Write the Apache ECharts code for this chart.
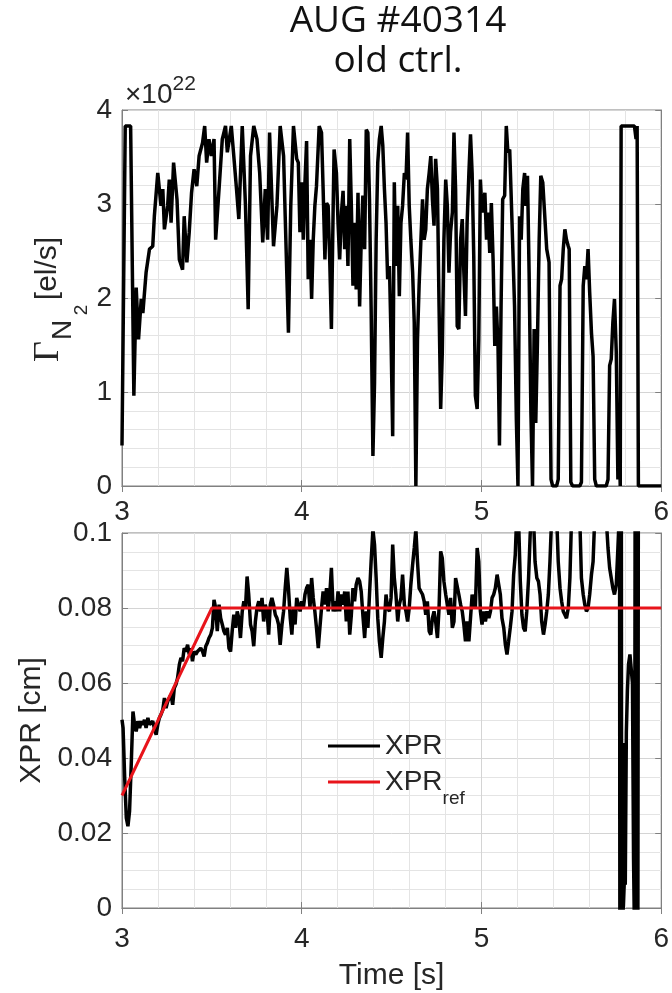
<!DOCTYPE html>
<html>
<head>
<meta charset="utf-8">
<script src="https://cdn.jsdelivr.net/npm/echarts@6/dist/echarts.min.js"></script>
<style>
html,body{margin:0;padding:0;background:#fff;}
#chart{width:672px;height:993px;}
</style>
</head>
<body>
<div id="chart"></div>
<script>
// ---------- data ----------
const titleLines = ['AUG #40314', 'old ctrl.'];
const timeTicks = [3, 4, 5, 6];            // s
const fluxTicks = [0, 1, 2, 3, 4];         // x 1e22 el/s
const xprTicks = [0, 0.02, 0.04, 0.06, 0.08, 0.1]; // cm

// N2 seeding rate, units of 1e22 el/s : [time s, value]
const n2Flux = [
[3.000,0.43],[3.018,3.83],[3.048,3.83],[3.066,0.96],[3.079,2.11],[3.092,1.56],[3.107,1.99],[3.116,1.84],[3.134,2.27],[3.153,2.52],
[3.171,2.55],[3.180,2.87],[3.199,3.33],[3.217,2.98],[3.227,3.16],[3.236,2.73],[3.254,2.98],[3.263,3.26],[3.273,2.80],[3.287,3.44],
[3.306,3.05],[3.319,2.41],[3.337,2.30],[3.346,2.87],[3.361,2.38],[3.374,2.70],[3.387,3.12],[3.401,3.37],[3.416,3.19],[3.429,3.51],
[3.448,3.65],[3.460,3.83],[3.471,3.44],[3.484,3.69],[3.497,3.51],[3.512,3.69],[3.521,2.62],[3.540,3.16],[3.558,3.69],[3.576,3.83],
[3.586,3.55],[3.608,3.83],[3.622,3.51],[3.637,3.16],[3.650,2.84],[3.669,3.83],[3.687,2.98],[3.702,1.88],[3.715,3.51],[3.733,3.83],
[3.751,3.69],[3.766,3.33],[3.783,2.59],[3.797,3.16],[3.810,2.62],[3.821,3.76],[3.843,2.55],[3.862,2.98],[3.880,3.83],[3.899,3.51],
[3.908,2.87],[3.926,1.63],[3.939,2.98],[3.954,3.83],[3.972,3.48],[3.981,3.44],[3.990,2.70],[4.000,3.23],[4.009,2.62],[4.018,3.23],
[4.027,3.67],[4.036,2.20],[4.046,2.62],[4.055,1.99],[4.064,2.62],[4.073,2.98],[4.082,3.19],[4.097,3.83],[4.110,3.76],[4.119,3.16],
[4.129,2.41],[4.138,3.01],[4.147,2.98],[4.156,2.38],[4.165,1.67],[4.175,2.98],[4.180,3.58],[4.193,3.33],[4.202,2.80],[4.211,2.41],
[4.221,2.91],[4.230,3.14],[4.239,2.52],[4.248,2.98],[4.257,2.34],[4.267,3.69],[4.276,2.98],[4.285,2.13],[4.294,2.80],[4.303,2.09],
[4.313,3.12],[4.322,1.91],[4.331,2.62],[4.340,3.09],[4.350,2.52],[4.359,3.79],[4.368,3.76],[4.377,3.05],[4.386,1.91],[4.396,0.32],
[4.405,1.10],[4.414,2.62],[4.423,3.44],[4.432,3.69],[4.442,3.83],[4.451,3.62],[4.460,3.16],[4.469,2.80],[4.478,2.20],[4.488,2.34],
[4.497,1.56],[4.506,0.53],[4.515,3.23],[4.524,2.34],[4.534,2.98],[4.543,2.02],[4.552,2.80],[4.561,2.98],[4.571,3.33],[4.580,3.26],
[4.589,3.76],[4.598,2.98],[4.607,2.62],[4.617,2.27],[4.626,1.74],[4.635,0.00],[4.644,1.56],[4.653,2.13],[4.663,2.13],[4.672,3.05],
[4.681,2.62],[4.690,2.73],[4.699,3.16],[4.709,3.33],[4.718,3.51],[4.727,3.05],[4.736,2.77],[4.745,3.48],[4.755,3.16],[4.764,1.91],
[4.773,0.82],[4.782,1.42],[4.791,2.62],[4.801,3.26],[4.810,2.98],[4.819,2.27],[4.828,2.70],[4.838,2.91],[4.847,3.76],[4.856,3.16],
[4.865,1.70],[4.874,1.67],[4.884,2.62],[4.893,2.84],[4.902,2.27],[4.911,1.81],[4.920,2.80],[4.930,3.33],[4.939,3.74],[4.948,3.33],
[4.957,2.45],[4.966,0.96],[4.976,0.82],[4.985,1.56],[4.994,3.26],[5.003,2.91],[5.008,2.91],[5.019,3.12],[5.028,2.62],[5.037,2.91],
[5.046,2.48],[5.055,3.01],[5.065,2.38],[5.074,1.49],[5.083,1.91],[5.092,1.49],[5.100,0.43],[5.109,1.91],[5.118,3.05],[5.129,3.09],
[5.138,3.83],[5.147,3.55],[5.157,3.58],[5.170,2.80],[5.184,1.91],[5.194,0.71],[5.203,0.00],[5.212,2.87],[5.221,2.62],[5.230,3.16],
[5.240,3.33],[5.247,2.98],[5.256,3.30],[5.265,2.27],[5.275,0.78],[5.284,0.00],[5.293,1.67],[5.302,0.67],[5.311,1.49],[5.321,2.62],
[5.330,3.30],[5.341,3.23],[5.350,2.94],[5.363,2.52],[5.376,2.38],[5.387,0.07],[5.396,0.00],[5.418,0.00],[5.427,0.07],[5.437,2.13],
[5.446,2.20],[5.455,2.52],[5.464,2.73],[5.473,2.62],[5.483,2.55],[5.488,2.52],[5.497,0.04],[5.507,0.00],[5.547,0.00],[5.556,0.04],
[5.566,2.13],[5.575,2.34],[5.584,2.20],[5.593,2.52],[5.602,2.06],[5.612,1.63],[5.621,1.38],[5.630,0.07],[5.639,0.00],[5.694,0.00],
[5.704,0.07],[5.713,1.28],[5.722,1.35],[5.731,1.74],[5.740,1.99],[5.750,1.42],[5.759,0.07],[5.764,0.67],[5.772,0.00],[5.777,3.83],
[5.851,3.83],[5.860,3.69],[5.866,3.83],[5.873,0.00],[6.000,0.00]
];

// XPR position, cm : [time s, value]  (values beyond 0..0.1 leave the frame)
const xpr = [
[3.000,0.0502],[3.006,0.0480],[3.015,0.0347],[3.024,0.0240],[3.033,0.0218],[3.042,0.0258],[3.052,0.0391],[3.061,0.0524],[3.070,0.0489],[3.079,0.0471],
[3.088,0.0498],[3.098,0.0480],[3.107,0.0498],[3.116,0.0489],[3.125,0.0502],[3.134,0.0480],[3.144,0.0507],[3.153,0.0489],[3.162,0.0484],[3.171,0.0498],
[3.180,0.0480],[3.190,0.0462],[3.199,0.0489],[3.208,0.0507],[3.217,0.0516],[3.227,0.0529],[3.236,0.0560],[3.245,0.0533],[3.254,0.0551],[3.263,0.0560],
[3.273,0.0569],[3.282,0.0542],[3.291,0.0587],[3.300,0.0596],[3.309,0.0613],[3.319,0.0649],[3.328,0.0667],[3.337,0.0658],[3.346,0.0693],[3.355,0.0684],
[3.365,0.0702],[3.374,0.0676],[3.383,0.0693],[3.392,0.0658],[3.401,0.0684],[3.411,0.0676],[3.420,0.0684],[3.429,0.0680],[3.438,0.0693],[3.448,0.0684],
[3.457,0.0671],[3.466,0.0698],[3.475,0.0707],[3.484,0.0720],[3.494,0.0729],[3.503,0.0747],[3.512,0.0822],[3.521,0.0800],[3.530,0.0738],[3.540,0.0809],
[3.549,0.0773],[3.558,0.0756],[3.567,0.0738],[3.576,0.0729],[3.586,0.0747],[3.595,0.0693],[3.604,0.0684],[3.613,0.0738],[3.622,0.0782],[3.632,0.0747],
[3.641,0.0791],[3.650,0.0773],[3.659,0.0720],[3.669,0.0791],[3.678,0.0818],[3.687,0.0800],[3.696,0.0884],[3.705,0.0836],[3.715,0.0756],[3.724,0.0738],
[3.733,0.0698],[3.742,0.0764],[3.751,0.0800],[3.761,0.0818],[3.770,0.0791],[3.779,0.0827],[3.788,0.0764],[3.797,0.0809],[3.807,0.0791],[3.816,0.0729],
[3.825,0.0809],[3.834,0.0827],[3.843,0.0809],[3.853,0.0782],[3.862,0.0773],[3.871,0.0756],[3.880,0.0702],[3.890,0.0756],[3.899,0.0791],[3.908,0.0853],
[3.917,0.0907],[3.926,0.0853],[3.936,0.0773],[3.945,0.0729],[3.954,0.0800],[3.963,0.0756],[3.972,0.0827],[3.981,0.0809],[3.991,0.0791],[4.000,0.0818],
[4.009,0.0800],[4.018,0.0836],[4.027,0.0853],[4.036,0.0862],[4.046,0.0800],[4.055,0.0880],[4.064,0.0827],[4.073,0.0791],[4.082,0.0747],[4.092,0.0693],
[4.101,0.0747],[4.110,0.0800],[4.119,0.0844],[4.129,0.0809],[4.138,0.0853],[4.147,0.0791],[4.156,0.0836],[4.165,0.0907],[4.175,0.0791],[4.184,0.0818],
[4.193,0.0791],[4.202,0.0844],[4.211,0.0791],[4.221,0.0836],[4.230,0.0809],[4.239,0.0844],[4.248,0.0764],[4.257,0.0844],[4.267,0.0729],[4.276,0.0782],
[4.285,0.0853],[4.294,0.0818],[4.303,0.0862],[4.313,0.0880],[4.322,0.0871],[4.331,0.0844],[4.340,0.0782],[4.350,0.0720],[4.359,0.0791],[4.368,0.0747],
[4.377,0.0836],[4.386,0.0924],[4.396,0.1010],[4.405,0.0969],[4.414,0.0880],[4.423,0.0773],[4.432,0.0711],[4.442,0.0667],[4.451,0.0720],[4.460,0.0764],
[4.469,0.0836],[4.478,0.0800],[4.488,0.0791],[4.497,0.0827],[4.506,0.0969],[4.515,0.0880],[4.524,0.0836],[4.534,0.0764],[4.543,0.0809],[4.552,0.0827],
[4.561,0.0889],[4.571,0.0809],[4.580,0.0791],[4.589,0.0764],[4.598,0.0800],[4.607,0.0862],[4.617,0.0916],[4.626,0.0960],[4.635,0.1010],[4.644,0.0924],
[4.653,0.0853],[4.663,0.0844],[4.672,0.0836],[4.681,0.0818],[4.690,0.0782],[4.699,0.0818],[4.709,0.0738],[4.718,0.0729],[4.727,0.0773],[4.736,0.0791],
[4.745,0.0764],[4.755,0.0720],[4.764,0.0800],[4.773,0.0951],[4.782,0.0933],[4.791,0.0871],[4.801,0.0836],[4.810,0.0809],[4.819,0.0782],[4.828,0.0827],
[4.838,0.0747],[4.847,0.0764],[4.856,0.0880],[4.865,0.0880],[4.874,0.0836],[4.884,0.0809],[4.893,0.0791],[4.902,0.0756],[4.911,0.0711],[4.920,0.0764],
[4.930,0.0711],[4.939,0.0773],[4.948,0.0836],[4.957,0.0809],[4.966,0.0800],[4.976,0.0960],[4.985,0.0924],[4.994,0.0791],[5.003,0.0756],[5.013,0.0791],
[5.022,0.0764],[5.031,0.0791],[5.041,0.0773],[5.050,0.0791],[5.059,0.0827],[5.068,0.0836],[5.077,0.0853],[5.087,0.0889],[5.096,0.0862],[5.105,0.0836],
[5.114,0.0773],[5.124,0.0747],[5.133,0.0702],[5.142,0.0676],[5.151,0.0711],[5.160,0.0747],[5.170,0.0791],[5.179,0.0889],[5.188,0.0942],[5.197,0.1060],
[5.206,0.1040],[5.216,0.0871],[5.225,0.0782],[5.234,0.0747],[5.243,0.0738],[5.252,0.0791],[5.262,0.0880],[5.271,0.0996],[5.280,0.1060],[5.289,0.1050],
[5.298,0.0924],[5.308,0.0880],[5.317,0.0871],[5.326,0.0836],[5.335,0.0764],[5.345,0.0729],[5.354,0.0756],[5.363,0.0791],[5.372,0.0836],[5.381,0.0924],
[5.391,0.1050],[5.409,0.1100],[5.418,0.1050],[5.427,0.0924],[5.437,0.0853],[5.446,0.0818],[5.455,0.0791],[5.464,0.0782],[5.473,0.0773],[5.483,0.0800],
[5.492,0.0880],[5.501,0.1040],[5.519,0.1100],[5.547,0.1040],[5.556,0.0880],[5.566,0.0836],[5.575,0.0809],[5.584,0.0791],[5.593,0.0800],[5.602,0.0836],
[5.612,0.0889],[5.621,0.0924],[5.630,0.1040],[5.658,0.1100],[5.694,0.1040],[5.704,0.0960],[5.713,0.0907],[5.722,0.0880],[5.731,0.0853],[5.740,0.0836],
[5.750,0.0862],[5.759,0.0960],[5.766,0.1040],[5.768,0.1200],[5.770,-0.0100],[5.773,0.1200],[5.775,-0.0100],[5.778,0.1200],[5.780,-0.0100],[5.790,-0.0100],
[5.794,0.0062],[5.797,0.0440],[5.800,0.0062],[5.806,0.0470],[5.812,0.0580],[5.818,0.0650],[5.826,0.0676],[5.834,0.0676],[5.840,0.0600],[5.846,0.0133],
[5.850,0.0133],[5.852,-0.0100],[5.855,0.1200],[5.858,-0.0100],[5.861,0.1200],[5.864,-0.0100],[5.867,0.1200],[5.870,-0.0100],[5.873,0.1200]
];

// XPR reference, cm
const xprRef = [[3.0,0.03],[3.5,0.08],[6.0,0.08]];

// ---------- chart ----------
const TXT = '#262626';
const AX = '#808080';
const SANS = 'Liberation Sans';
const TITLE_FONT = 'Open Sans';
const LW = 3.5;
const chart = echarts.init(document.getElementById('chart'), null, {renderer: 'canvas'});

function baseX(grid, labelMargin, extra) {
  return Object.assign({
    type: 'value', gridIndex: grid,
    min: timeTicks[0], max: timeTicks[timeTicks.length - 1],
    interval: timeTicks[1] - timeTicks[0],
    axisLine: {show: true, lineStyle: {color: AX, width: 1}},
    axisTick: {show: true, inside: true, length: 6, lineStyle: {color: AX}},
    axisLabel: {show: true, color: TXT, fontFamily: SANS, fontSize: 28, margin: labelMargin},
    splitLine: {show: true, lineStyle: {color: '#d4d4d4', width: 1}},
    minorTick: {show: false, splitNumber: 5},
    minorSplitLine: {show: true, lineStyle: {color: '#e4e4e4', width: 1}}
  }, extra || {});
}
function baseY(grid, ticks, minorN, extra) {
  return Object.assign({
    type: 'value', gridIndex: grid,
    min: ticks[0], max: ticks[ticks.length - 1],
    interval: ticks[1] - ticks[0],
    axisLine: {show: true, lineStyle: {color: AX, width: 1}},
    axisTick: {show: true, inside: true, length: 6, lineStyle: {color: AX}},
    axisLabel: {show: true, color: TXT, fontFamily: SANS, fontSize: 28, margin: 10},
    splitLine: {show: true, lineStyle: {color: '#d4d4d4', width: 1}},
    minorTick: {show: false, splitNumber: minorN},
    minorSplitLine: {show: true, lineStyle: {color: '#e4e4e4', width: 1}}
  }, extra || {});
}
const boxOnly = {axisLabel: {show: false}, splitLine: {show: false}, minorSplitLine: {show: false}};

const option = {
  animation: false,
  backgroundColor: '#ffffff',
  title: {
    text: titleLines.join('\n'),
    left: 398, top: 1, padding: 0,
    textAlign: 'center',
    textStyle: {fontFamily: TITLE_FONT, fontSize: 37, fontWeight: 'normal', color: '#111', lineHeight: 40}
  },
  grid: [
    {left: 122, top: 110, width: 544, height: 376, show: true, borderColor: AX, borderWidth: 1, backgroundColor: '#fff'},
    {left: 122, top: 533, width: 544, height: 375, show: true, borderColor: AX, borderWidth: 1, backgroundColor: '#fff'}
  ],
  xAxis: [
    baseX(0, 12),
    baseX(1, 17, {name: 'Time [s]', nameLocation: 'middle', nameGap: 53,
      nameTextStyle: {fontFamily: SANS, fontSize: 30, color: TXT}}),
    baseX(0, 12, Object.assign({position: 'top'}, boxOnly)),
    baseX(1, 12, Object.assign({position: 'top'}, boxOnly))
  ],
  yAxis: [
    baseY(0, fluxTicks, 5),
    baseY(1, xprTicks, 4, {name: 'XPR [cm]', nameLocation: 'middle', nameRotate: 90, nameGap: 68,
      nameTextStyle: {fontFamily: SANS, fontSize: 30, color: TXT}}),
    baseY(0, fluxTicks, 5, Object.assign({position: 'right'}, boxOnly)),
    baseY(1, xprTicks, 4, Object.assign({position: 'right'}, boxOnly))
  ],
  legend: [
    {data: ['XPR'], orient: 'vertical', left: 328, top: 731, padding: 0, selectedMode: false,
     icon: 'rect', itemWidth: 52, itemHeight: 3,
     textStyle: {fontFamily: SANS, fontSize: 28, color: TXT, lineHeight: 30}},
    {data: ['XPR_ref'], orient: 'vertical', left: 328, top: 756, padding: 0, selectedMode: false,
     icon: 'rect', itemWidth: 52, itemHeight: 3,
     formatter: function () { return 'XPR{sub|ref}'; },
     textStyle: {fontFamily: SANS, fontSize: 28, color: TXT, lineHeight: 30,
       rich: {sub: {fontFamily: SANS, fontSize: 19, color: TXT, lineHeight: 19, padding: [33, 0, 0, 0]}}}}
  ],
  graphic: [
    {type: 'text', x: 125, y: 95, silent: true,
     style: {text: '×10{sup|22}', fontFamily: SANS, fontSize: 28, fill: TXT, verticalAlign: 'middle', align: 'left',
       rich: {sup: {fontFamily: SANS, fontSize: 21, fill: TXT, lineHeight: 21, padding: [0, 0, 22, 0]}}}},
    {type: 'text', x: 47.5, y: 268.5, rotation: Math.PI / 2, silent: true,
     style: {text: '[el/s]', fontFamily: SANS, fontSize: 30, fill: TXT, align: 'center', verticalAlign: 'middle'}},
    {type: 'text', x: 49, y: 351.5, rotation: Math.PI / 2, silent: true,
     style: {text: 'Γ', fontFamily: 'Liberation Serif', fontSize: 36, fill: TXT, align: 'center', verticalAlign: 'middle'}},
    {type: 'text', x: 63.5, y: 330, rotation: Math.PI / 2, silent: true,
     style: {text: 'N', fontFamily: SANS, fontSize: 28, fill: TXT, align: 'center', verticalAlign: 'middle'}},
    {type: 'text', x: 82, y: 310, rotation: Math.PI / 2, silent: true,
     style: {text: '2', fontFamily: SANS, fontSize: 19, fill: TXT, align: 'center', verticalAlign: 'middle'}}
  ],
  series: [
    {name: 'N2', type: 'line', xAxisIndex: 0, yAxisIndex: 0, data: n2Flux, symbol: 'none',
     lineStyle: {color: '#000', width: LW}, itemStyle: {color: '#000'}, clip: true, z: 3},
    {name: 'XPR', type: 'line', xAxisIndex: 1, yAxisIndex: 1, data: xpr, symbol: 'none',
     lineStyle: {color: '#000', width: LW}, itemStyle: {color: '#000'}, clip: true, z: 3},
    {name: 'XPR_ref', type: 'line', xAxisIndex: 1, yAxisIndex: 1, data: xprRef, symbol: 'none',
     lineStyle: {color: '#e8141b', width: 3}, itemStyle: {color: '#e8141b'}, clip: true, z: 4}
  ]
};
chart.setOption(option);
</script>
</body>
</html>
